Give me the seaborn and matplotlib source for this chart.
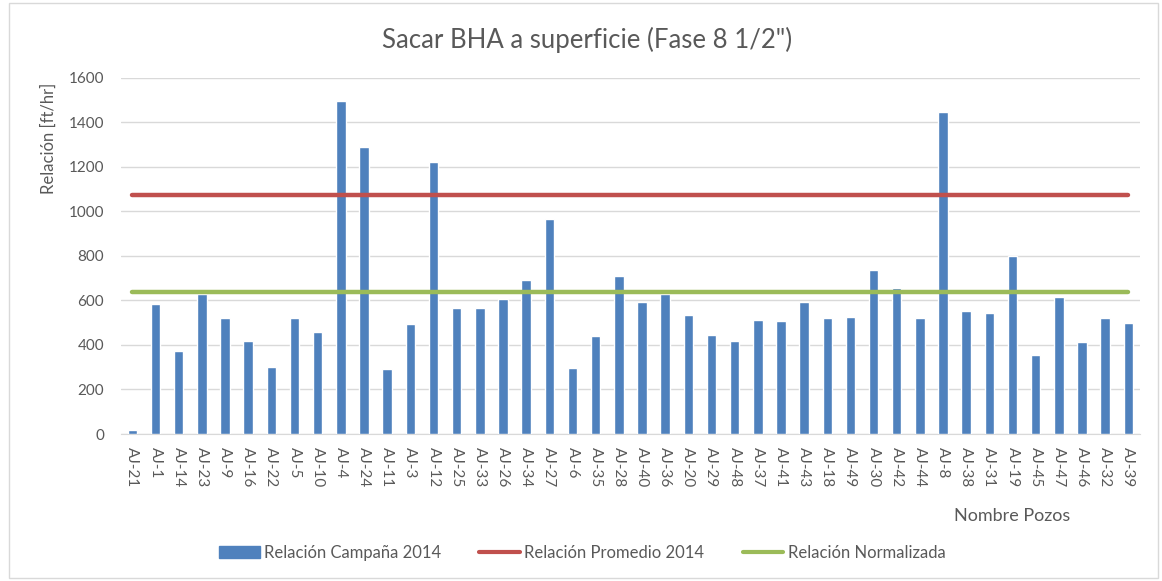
import pandas as pd
import matplotlib
matplotlib.use("Agg")
import matplotlib.pyplot as plt
import seaborn as sns
from matplotlib.patches import Patch, Rectangle
from matplotlib.lines import Line2D

pozos = ['AJ-21', 'AJ-1', 'AJ-14', 'AJ-23', 'AJ-9', 'AJ-16', 'AJ-22', 'AJ-5', 'AJ-10', 'AJ-4',
         'AJ-24', 'AJ-11', 'AJ-3', 'AJ-12', 'AJ-25', 'AJ-33', 'AJ-26', 'AJ-34', 'AJ-27', 'AJ-6',
         'AJ-35', 'AJ-28', 'AJ-40', 'AJ-36', 'AJ-20', 'AJ-29', 'AJ-48', 'AJ-37', 'AJ-41', 'AJ-43',
         'AJ-18', 'AJ-49', 'AJ-30', 'AJ-42', 'AJ-44', 'AJ-8', 'AJ-38', 'AJ-31', 'AJ-19', 'AJ-45',
         'AJ-47', 'AJ-46', 'AJ-32', 'AJ-39']
campana_2014 = [20, 585, 375, 630, 520, 420, 303, 520, 460, 1498,
                1288, 290, 493, 1222, 565, 565, 606, 691, 966, 295,
                441, 710, 593, 630, 533, 447, 420, 513, 506, 593,
                519, 525, 735, 655, 519, 1446, 552, 545, 801, 354,
                617, 413, 519, 498]
promedio_2014 = 1075
normalizada = 636

data = pd.DataFrame({'Pozo': pozos, 'Relacion': campana_2014})

sns.set_style("white")
plt.rcParams['font.family'] = ['Lato', 'DejaVu Sans']
gris = '#595959'

fig = plt.figure(figsize=(11.62, 5.81), dpi=100)
ax = fig.add_axes([0.104, 0.253, 0.877, 0.613])

sns.barplot(x='Pozo', y='Relacion', data=data, color='#4f81bd', width=0.41,
            saturation=1, ax=ax, zorder=3)
n = len(pozos)
ax.plot([0, n - 1], [promedio_2014, promedio_2014], color='#c0504d', lw=3.2,
        solid_capstyle='round', zorder=4)
ax.plot([0, n - 1], [normalizada, normalizada], color='#9bbb59', lw=3.2,
        solid_capstyle='round', zorder=4)

ax.set_xlim(-0.5, n - 0.5)
ax.set_ylim(0, 1600)
ax.set_yticks(range(0, 1601, 200))
ax.yaxis.grid(True, color='#d9d9d9', lw=1)
ax.set_axisbelow(True)
for s in ['top', 'right', 'left']:
    ax.spines[s].set_visible(False)
ax.spines['bottom'].set_color('#d9d9d9')
ax.tick_params(axis='both', length=0, colors=gris, labelsize=11)
ax.tick_params(axis='x', pad=9)
ax.tick_params(axis='y', pad=12)
plt.setp(ax.get_xticklabels(), rotation=-90)

ax.set_xlabel('')
ax.set_ylabel('Relación [ft/hr]', color=gris, fontsize=12)
ax.yaxis.set_label_coords(-0.063, 0.83)
fig.text(587 / 1162, 1 - 40 / 581, 'Sacar BHA a superficie (Fase 8 1/2")', color=gris,
         fontsize=18.5, ha='center', va='center')
fig.text(1012 / 1162, 1 - 516 / 581, 'Nombre Pozos', color=gris, fontsize=13,
         ha='center', va='center')

handles = [Patch(color='#4f81bd'),
           Line2D([0], [0], color='#c0504d', lw=3),
           Line2D([0], [0], color='#9bbb59', lw=3)]
labels = ['Relación Campaña 2014', 'Relación Promedio 2014', 'Relación Normalizada']
leg = fig.legend(handles, labels, loc='center', bbox_to_anchor=(582 / 1162, 1 - 553 / 581),
                 ncol=3, frameon=False, fontsize=12, handlelength=2.45, handletextpad=0.25,
                 columnspacing=2.3)
for t in leg.get_texts():
    t.set_color(gris)

fig.patches.append(Rectangle((9 / 1162, 0.005), 1 - 13 / 1162, 0.99, transform=fig.transFigure,
                             fill=False, edgecolor='#d9d9d9', lw=1))

fig.savefig('out.png', dpi=100)
